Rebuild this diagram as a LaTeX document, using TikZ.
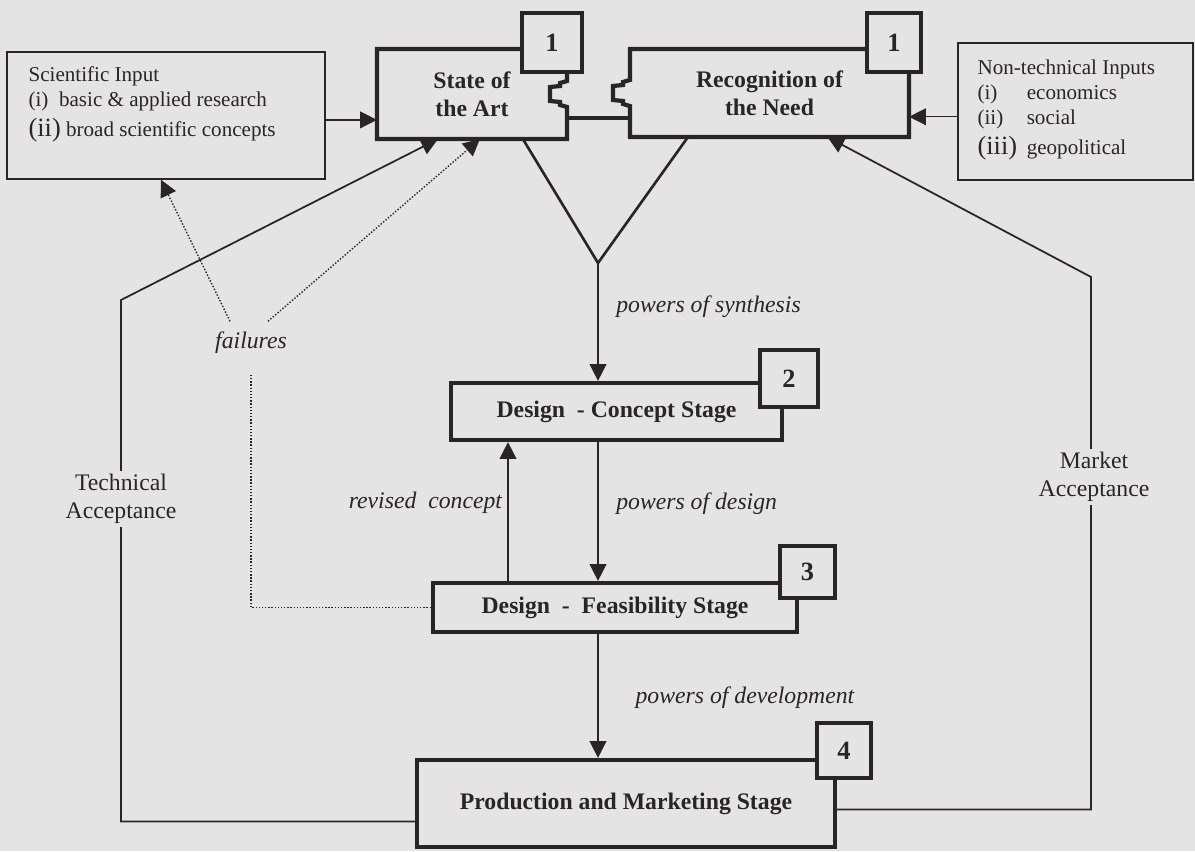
\documentclass[tikz,border=0pt]{standalone}
\usepackage{fontspec}
\setmainfont{Liberation Serif}
\usetikzlibrary{arrows.meta,positioning,calc}
\definecolor{paper}{HTML}{E4E4E4}
\definecolor{ink}{HTML}{2A2525}
\tikzset{
  stage/.style={draw=ink,line width=2.4pt,fill=paper,inner sep=0pt,align=center,text=ink,
                font=\fontsize{13.5}{16}\selectfont\bfseries},
  numbox/.style={draw=ink,line width=2.4pt,fill=paper,inner sep=0pt,text=ink,
                 font=\fontsize{15}{15}\selectfont\bfseries},
  inbox/.style={draw=ink,line width=0.9pt,inner sep=0pt},
  intext/.style={align=left,text=ink,inner sep=0pt,font=\fontsize{12}{14.2}\selectfont},
  flow/.style={-{Triangle[length=9.5pt,width=9.5pt]},draw=ink,line width=0.8pt},
  vline/.style={draw=ink,line width=1.5pt},
  fback/.style={-{Triangle[length=9.5pt,width=9.5pt]},draw=ink,line width=1pt},
  dotline/.style={draw=ink,line width=0.8pt,dash pattern=on 0.8pt off 1pt},
  lbl/.style={font=\fontsize{13.5}{15}\selectfont\itshape,text=ink,inner sep=2pt},
  acc/.style={font=\fontsize{13.5}{16}\selectfont,text=ink,fill=paper,align=center,inner sep=2pt},
}
\begin{document}
\begin{tikzpicture}[x=0.02cm,y=-0.02cm]
  \fill[paper] (0,0) rectangle (1195,851);
  \useasboundingbox (0,0) rectangle (1195,851);
  % input boxes
  \node[inbox,minimum width=6.36cm,minimum height=2.54cm] (sci) at (166,115.5) {};
  \node[intext,anchor=north west] (scitext) at ($(sci.north west)+(22,15)$)
    {Scientific Input\\(i)~~basic \& applied research\\[3pt]{\fontsize{15}{15}\selectfont(ii)}~broad scientific concepts};
  \node[inbox,minimum width=4.7cm,minimum height=2.74cm] (nontech) at (1075.5,111.5) {};
  \node[intext,anchor=north west] (nttext) at ($(nontech.north west)+(20,17)$)
    {Non-technical Inputs\\\makebox[28pt][l]{(i)}economics\\\makebox[28pt][l]{(ii)}social\\[3pt]\makebox[28pt][l]{\fontsize{15}{15}\selectfont(iii)}geopolitical};
  % stage 1 boxes (outlines drawn by hand for the notch)
  \node[stage,draw=none,fill=none,minimum width=3.72cm,minimum height=1.72cm] (state) at (472,94) {State of\\the Art};
  \node[stage,draw=none,fill=none,minimum width=5.5cm,minimum height=1.68cm] (recog) at (769.5,93) {Recognition of\\the Need};
  \draw[ink,line width=2.4pt] (state.north east) -- (state.north west) -- (state.south west) -- (state.south east)
    -- ($(state.east)+(0,13)$) -- ++(-7,-2) -- ++(0,-3) -- ++(-10,-1) -- ++(0,-14) -- ++(10,-1) -- ++(0,-3) -- ++(7,-2) -- cycle;
  \draw[ink,line width=2.4pt] (recog.north west) -- (recog.north east) -- (recog.south east) -- (recog.south west)
    -- ($(recog.west)+(0,13)$) -- ++(-7,-2) -- ++(0,-3) -- ++(-10,-1) -- ++(0,-14) -- ++(10,-1) -- ++(0,-3) -- ++(7,-2) -- cycle;
  \draw[ink,line width=2.4pt] ($(state.east)+(0,24)$) coordinate (lk) -- (lk -| recog.west);
  % later stages
  \node[stage,minimum width=6.62cm,minimum height=1.14cm] (concept) at (616.5,411.5) {Design\ \ - Concept Stage};
  \node[stage,minimum width=7.28cm,minimum height=0.98cm] (feas) at (615,607.5) {Design\ \ -\ \ Feasibility Stage};
  \node[stage,minimum width=8.36cm,minimum height=1.74cm] (prod) at (626,803.5) {Production and Marketing Stage};
  % stage numbers
  \node[numbox,minimum width=1.2cm,minimum height=1.18cm] (n1a) at (552,42.5) {1};
  \node[numbox,minimum width=1.08cm,minimum height=1.18cm] (n1b) at (894,42.5) {1};
  \node[numbox,minimum width=1.16cm,minimum height=1.14cm] (n2) at (789,378.5) {2};
  \node[numbox,minimum width=1.1cm,minimum height=1.04cm] (n3) at (807.5,572) {3};
  \node[numbox,minimum width=1.08cm,minimum height=1.1cm] (n4) at (844,750.5) {4};
  % inputs
  \draw[flow] ([yshift=-2.5pt]sci.east) -- ([yshift=-2.5pt]sci.east -| state.west);
  \draw[flow] ([yshift=-3pt]nontech.west) -- ([yshift=-3pt]nontech.west -| recog.east);
  % main flow
  \coordinate (apex) at (598,263);
  \draw[vline] ($(state.south west)+(146,0)$) -- (apex) -- ($(recog.south west)+(58,0)$);
  \draw[flow] (apex) -- (apex |- concept.north) node[lbl,pos=0.37,right=8pt] {powers of synthesis};
  \draw[flow] (apex |- concept.south) -- (apex |- feas.north) node[lbl,pos=0.44,right=8pt] {powers of design};
  \draw[flow] (apex |- feas.south) -- (apex |- prod.north) node[lbl,pos=0.51,right=19pt] {powers of development};
  \coordinate (rc) at (508,500);
  \draw[flow] (rc |- feas.north) -- (rc |- concept.south) node[lbl,pos=0.56,left=1pt] {revised\ \ concept};
  % acceptance loops
  \coordinate (tbend) at (121,300);
  \coordinate (mbend) at (1091,277);
  \draw[fback] ($(prod.west)+(0,18)$) -| (tbend) -- ($(state.south west)+(61,0)$);
  \draw[fback] ($(prod.east)+(0,6)$) -| (mbend) -- ($(recog.south)+(58,0)$);
  \node[acc] (tacc) at (121,499) {Technical\\Acceptance};
  \node[acc] (macc) at (1094,477) {Market\\Acceptance};
  % failures
  \node[lbl] (fail) at (251,343) {failures};
  \draw[dotline,shorten >=10pt] (feas.west) -| (fail.south);
  \draw[dotline,-{Triangle[length=9.5pt,width=9.5pt]}] ($(fail.north)+(-21,-7)$) -- ($(sci.south)+(-5,0)$);
  \draw[dotline,-{Triangle[length=9.5pt,width=9.5pt]}] ($(fail.north)+(17,-7)$) -- ($(state.south west)+(103,0)$);
\end{tikzpicture}
\end{document}
